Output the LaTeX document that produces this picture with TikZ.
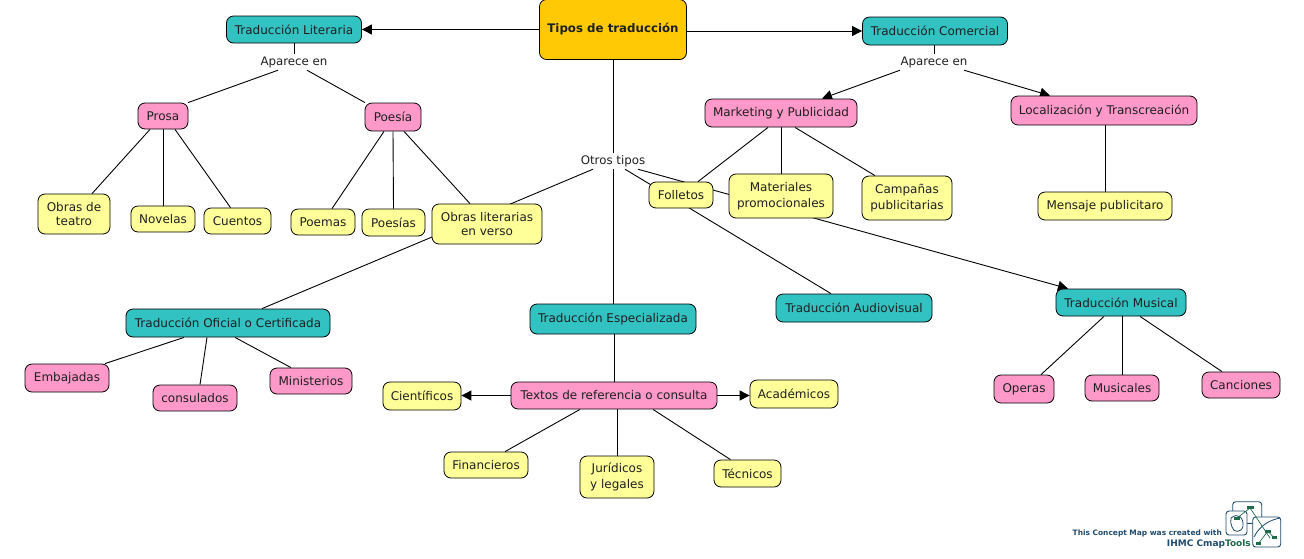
\documentclass[tikz,border=0pt]{standalone}
\usepackage{fontspec}
\setmainfont{DejaVu Sans}
\usetikzlibrary{arrows.meta}
\pgfdeclarelayer{background}
\pgfsetlayers{background,main}
\definecolor{cteal}{HTML}{33C2C2}
\definecolor{cpink}{HTML}{FF99C9}
\definecolor{cyel}{HTML}{FFFF99}
\definecolor{corg}{HTML}{FFCA05}
\definecolor{clogo}{HTML}{1E4A6E}
\definecolor{cgreen}{HTML}{1F6B4A}
\tikzset{
 cbox/.style={draw=black,line width=0.8pt,rounded corners=7pt,inner sep=0pt,align=center,font=\fontsize{12}{14.5}\selectfont,text=black!88},
 teal/.style={cbox,fill=cteal},
 pink/.style={cbox,fill=cpink},
 yel/.style={cbox,fill=cyel},
 org/.style={cbox,fill=corg,font=\fontsize{11.8}{14}\selectfont\bfseries},
 lab/.style={inner sep=0pt,font=\fontsize{11.8}{14}\selectfont,text=black!88},
 sz/.style n args={2}{minimum width=#1pt,minimum height=#2pt},
 link/.style={line width=0.9pt,black},
 arr/.style={link,-{Triangle[length=10pt,width=10pt]}},
 lg/.style={draw=clogo,line width=0.9pt,rounded corners=3pt},
 lgl/.style={draw=cgreen,line width=0.7pt},
}
\begin{document}
\begin{tikzpicture}[x=1pt,y=-1pt]
\useasboundingbox (0,0) rectangle (1304,558);
\node[org,sz={147}{60}] (tipos) at (613,29.5) {\raisebox{-1pt}{Tipos de traducción}};
\node[teal,sz={135}{27}] (lit) at (294,29.5) {Traducción Literaria};
\node[teal,sz={145}{28}] (com) at (935,31) {Traducción Comercial};
\node[lab,minimum width=70pt,minimum height=16pt] (ap1) at (294,62) {Aparece en};
\node[lab,minimum width=70pt,minimum height=16pt] (ap2) at (934,62) {Aparece en};
\node[lab,minimum width=70pt,minimum height=16pt] (ot) at (613,161) {Otros tipos};
\node[pink,sz={50}{26}] (prosa) at (163,116) {Prosa};
\node[pink,sz={56}{28}] (poesia) at (393,117) {Poesía};
\node[pink,sz={152}{28}] (mark) at (781,113) {Marketing y Publicidad};
\node[pink,sz={186}{29}] (loc) at (1104,110.5) {Localización y Transcreación};
\node[yel,sz={72}{40}] (obras) at (74,214) {Obras de\\teatro};
\node[yel,sz={64}{26}] (nov) at (163,219) {Novelas};
\node[yel,sz={67}{26}] (cue) at (237.5,221) {Cuentos};
\node[yel,sz={64}{26}] (poem) at (323,222) {Poemas};
\node[yel,sz={63}{27}] (poes) at (393.5,222.5) {Poesías};
\node[yel,sz={110}{40}] (olit) at (487,224) {Obras literarias\\en verso};
\node[yel,sz={64}{26}] (fol) at (681,195) {Folletos};
\node[yel,sz={104}{44}] (mat) at (781,196) {Materiales\\[1pt]promocionales};
\node[yel,sz={90}{44}] (cam) at (907,198) {Campañas\\[1pt]publicitarias};
\node[yel,sz={134}{28}] (men) at (1105,206) {Mensaje publicitaro};
\node[teal,sz={204}{28}] (ofi) at (228,323) {Traducción Oficial o Certificada};
\node[teal,sz={166}{30}] (esp) at (613,319) {Traducción Especializada};
\node[teal,sz={156}{28}] (aud) at (854,308) {Traducción Audiovisual};
\node[teal,sz={130}{27}] (mus) at (1121,302.5) {Traducción Musical};
\node[pink,sz={84}{28}] (emb) at (67,378) {Embajadas};
\node[pink,sz={84}{26}] (con) at (195,398) {consulados};
\node[pink,sz={82}{26}] (min) at (311,381) {Ministerios};
\node[yel,sz={78}{28}] (cien) at (422,396) {Científicos};
\node[pink,sz={206}{27}] (tex) at (614,395.5) {Textos de referencia o consulta};
\node[yel,sz={88}{28}] (aca) at (794,394) {Académicos};
\node[yel,sz={84}{26}] (fin) at (486,465) {Financieros};
\node[yel,sz={74}{42}] (jur) at (617,477) {Jurídicos\\[1pt]y legales};
\node[yel,sz={67}{27}] (tec) at (747.5,473.5) {Técnicos};
\node[pink,sz={60}{28}] (ope) at (1024,389) {Operas};
\node[pink,sz={74}{26}] (musi) at (1122,388) {Musicales};
\node[pink,sz={78}{26}] (can) at (1241,385) {Canciones};
\begin{pgfonlayer}{background}
\draw[arr] (tipos.west |- lit.east) -- (lit.east);
\draw[arr] (tipos.east |- com.west) -- (com.west);
\draw[link] (lit.south) -- (ap1.north);
\draw[link] ([xshift=-16pt]ap1.south) -- ([xshift=25pt]prosa.north);
\draw[link] ([xshift=13pt]ap1.south) -- ([xshift=-28pt]poesia.north);
\draw[link] ([xshift=-13pt]prosa.south) -- ([xshift=18pt]obras.north);
\draw[link] (prosa.south) -- (nov.north);
\draw[link] ([xshift=12pt]prosa.south) -- ([xshift=-7pt]cue.north);
\draw[link] ([xshift=-9pt]poesia.south) -- ([xshift=9pt]poem.north);
\draw[link] (poesia.south) -- (poes.north);
\draw[link] ([xshift=11pt]poesia.south) -- ([xshift=-17pt]olit.north);
\draw[link] (com.south -| ap2.north) -- (ap2.north);
\draw[arr] ([xshift=-34pt]ap2.south) -- ([xshift=41pt]mark.north);
\draw[arr] ([xshift=30pt]ap2.south) -- ([xshift=-54pt]loc.north);
\draw[link] ([xshift=-13pt]mark.south) -- ([xshift=17pt]fol.north);
\draw[link] (mark.south) -- (mat.north);
\draw[link] ([xshift=14pt]mark.south) -- ([xshift=-32pt]cam.north);
\draw[link] ([xshift=1pt]loc.south) -- (men.north);
\draw[link] (tipos.south) -- (ot.north);
\draw[link] (ot.south) -- (esp.north);
\draw[link] ([xshift=-20pt]ot.south) -- ([xshift=34pt]ofi.north);
\draw[link] ([xshift=12pt]ot.south) -- ([xshift=-23pt]aud.north);
\draw[arr] ([xshift=25pt]ot.south) -- ([xshift=-53pt]mus.north);
\draw[link] (esp.south -| tex.north) -- (tex.north);
\draw[arr] (tex.west) -- (cien.east |- tex.west);
\draw[arr] (tex.east) -- (aca.west |- tex.east);
\draw[link] ([xshift=-34pt]tex.south) -- ([xshift=19pt]fin.north);
\draw[link] ([xshift=3pt]tex.south) -- (jur.north);
\draw[link] ([xshift=39pt]tex.south) -- ([xshift=-17pt]tec.north);
\draw[link] ([xshift=-44pt]ofi.south) -- ([xshift=38pt]emb.north);
\draw[link] ([xshift=-21pt]ofi.south) -- ([xshift=5pt]con.north);
\draw[link] ([xshift=7pt]ofi.south) -- ([xshift=-20pt]min.north);
\draw[link] ([xshift=-17pt]mus.south) -- ([xshift=17pt]ope.north);
\draw[link] ([xshift=1pt]mus.south) -- (musi.north);
\draw[link] ([xshift=19pt]mus.south) -- ([xshift=-19pt]can.north);
\end{pgfonlayer}
% CmapTools logo
\node[inner sep=0pt,anchor=east,font=\fontsize{7.45}{9}\selectfont\bfseries,text=clogo] (lgt1) at (1222,533) {This Concept Map was created with};
\node[inner sep=0pt,anchor=east,font=\fontsize{9}{10}\selectfont\bfseries,text=clogo] (lgt2) at (1251,544) {IHMC Cmap\textcolor{cgreen}{Tools}};
\draw[lg,fill=white] (1232.7,501.7) rectangle (1261.7,523.3);
\draw[lg,fill=white] (1226,511) rectangle (1247,535);
\draw[lg,fill=white] (1252.7,517) rectangle (1280.7,547);
\draw[clogo,line width=0.8pt] (1231,518) .. controls (1238,512) and (1244,518) .. (1243,526) .. controls (1242,533) and (1233,533) .. (1232,527) .. controls (1231,524) and (1230,521) .. (1231,518);
\draw[clogo,line width=0.8pt] (1254,537) .. controls (1260,525) and (1270,520) .. (1280,518);
\draw[lgl] (1237,518) -- (1250,508) -- (1270,538);
\draw[lgl] (1258,544) -- (1268,531) -- (1274,538);
\fill[cgreen] (1234,517) rectangle (1240,520);
\fill[cgreen] (1247,506) rectangle (1254,509);
\fill[cgreen] (1265,530) rectangle (1271,533);
\fill[cgreen] (1272,536) rectangle (1277,539);
\fill[cgreen] (1256,542) rectangle (1261,545);
\end{tikzpicture}
\end{document}
